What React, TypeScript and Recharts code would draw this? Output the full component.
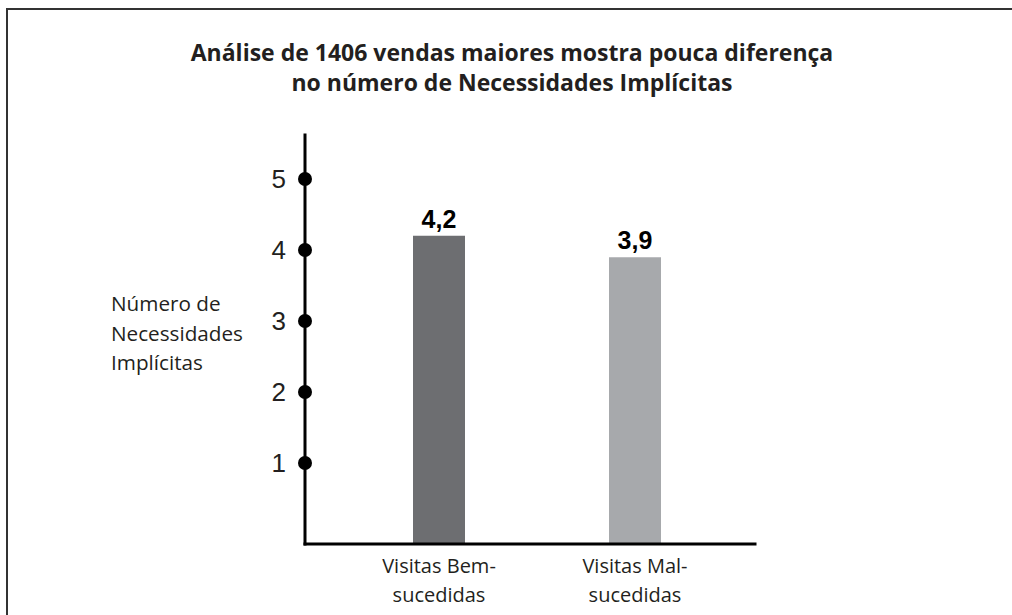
import React from "react";
import { BarChart, Bar, XAxis, YAxis, LabelList, Cell } from "recharts";

// dados
const categorias = ["Visitas Bem-sucedidas", "Visitas Mal-sucedidas"];
const valores = [4.2, 3.9];
const coresBarras = ["#6d6e71", "#a7a9ac"];
const ticksY = [1, 2, 3, 4, 5];
const tituloLinhas = [
  "Análise de 1406 vendas maiores mostra pouca diferença",
  "no número de Necessidades Implícitas",
];
const rotuloYLinhas = ["Número de", "Necessidades", "Implícitas"];

// o eixo x fica um pouco abaixo do zero no original
const yDominio: [number, number] = [-0.14, 5.62];

const data = categorias.map((nome, i) => ({
  nome,
  valor: valores[i],
  faixa: [yDominio[0], valores[i]],
}));

const textoEscuro = "#231f20";
const fonteMyriad = "'Open Sans', 'Noto Sans', sans-serif";
const fonteArial = "'Liberation Sans', Arial, sans-serif";

function TickY(props: any) {
  const { x, y, payload } = props;
  return (
    <g>
      <circle cx={x} cy={y} r={7} fill="#000" />
      <text
        x={x - 19}
        y={y}
        dy={9}
        textAnchor="end"
        fontFamily={fonteArial}
        fontSize={26}
        fill={textoEscuro}
      >
        {payload.value}
      </text>
    </g>
  );
}

function TickX(props: any) {
  const { x, y, payload } = props;
  const linhas = String(payload.value).split(/(?<=-)/);
  return (
    <text
      x={x}
      y={y}
      textAnchor="middle"
      fontFamily={fonteMyriad}
      fontSize={20}
      fill={textoEscuro}
    >
      {linhas.map((l, i) => (
        <tspan key={i} x={x} dy={29}>
          {l}
        </tspan>
      ))}
    </text>
  );
}

export default function App() {
  return (
    <div
      style={{
        position: "relative",
        width: 1012,
        height: 615,
        overflow: "hidden",
        background: "#fff",
      }}
    >
      <style>{"body{margin:0}"}</style>
      <div
        style={{
          position: "absolute",
          left: 6,
          top: 8,
          width: 1100,
          height: 700,
          borderTop: "2px solid #333",
          borderLeft: "2px solid #333",
        }}
      />
      <div
        style={{
          position: "absolute",
          left: 0,
          top: 41,
          width: 1024,
          textAlign: "center",
          fontFamily: fonteMyriad,
          fontWeight: 700,
          fontSize: 23,
          lineHeight: "23px",
          color: textoEscuro,
        }}
      >
        {tituloLinhas.map((l) => (
          <div key={l} style={{ marginBottom: 7 }}>
            {l}
          </div>
        ))}
      </div>
      <div
        style={{
          position: "absolute",
          left: 111,
          top: 289,
          fontFamily: fonteMyriad,
          fontSize: 20.7,
          lineHeight: "29.5px",
          color: textoEscuro,
        }}
      >
        {rotuloYLinhas.map((l) => (
          <div key={l}>{l}</div>
        ))}
      </div>
      <div style={{ position: "absolute", left: 0, top: 0 }}>
        <BarChart
          width={1012}
          height={615}
          data={data}
          margin={{ top: 135, right: 257, bottom: 11, left: 205 }}
        >
          <XAxis
            dataKey="nome"
            height={60}
            padding={{ left: 36, right: 22 }}
            tickLine={false}
            tickSize={0}
            tickMargin={0}
            axisLine={{ stroke: "#000", strokeWidth: 3, strokeLinecap: "square" }}
            tick={<TickX />}
            interval={0}
          />
          <YAxis
            type="number"
            width={100}
            domain={yDominio}
            ticks={ticksY}
            allowDataOverflow
            tickLine={false}
            tickSize={0}
            tickMargin={0}
            axisLine={{ stroke: "#000", strokeWidth: 3, strokeLinecap: "square" }}
            tick={<TickY />}
          />
          <Bar dataKey="faixa" barSize={52} isAnimationActive={false}>
            {data.map((d, i) => (
              <Cell key={d.nome} fill={coresBarras[i]} />
            ))}
            <LabelList
              dataKey="valor"
              position="top"
              offset={8}
              formatter={(v: any) => Number(v).toFixed(1).replace(".", ",")}
              style={{
                fontFamily: fonteArial,
                fontWeight: 700,
                fontSize: 25,
                fill: "#000",
              }}
            />
          </Bar>
        </BarChart>
      </div>
    </div>
  );
}
